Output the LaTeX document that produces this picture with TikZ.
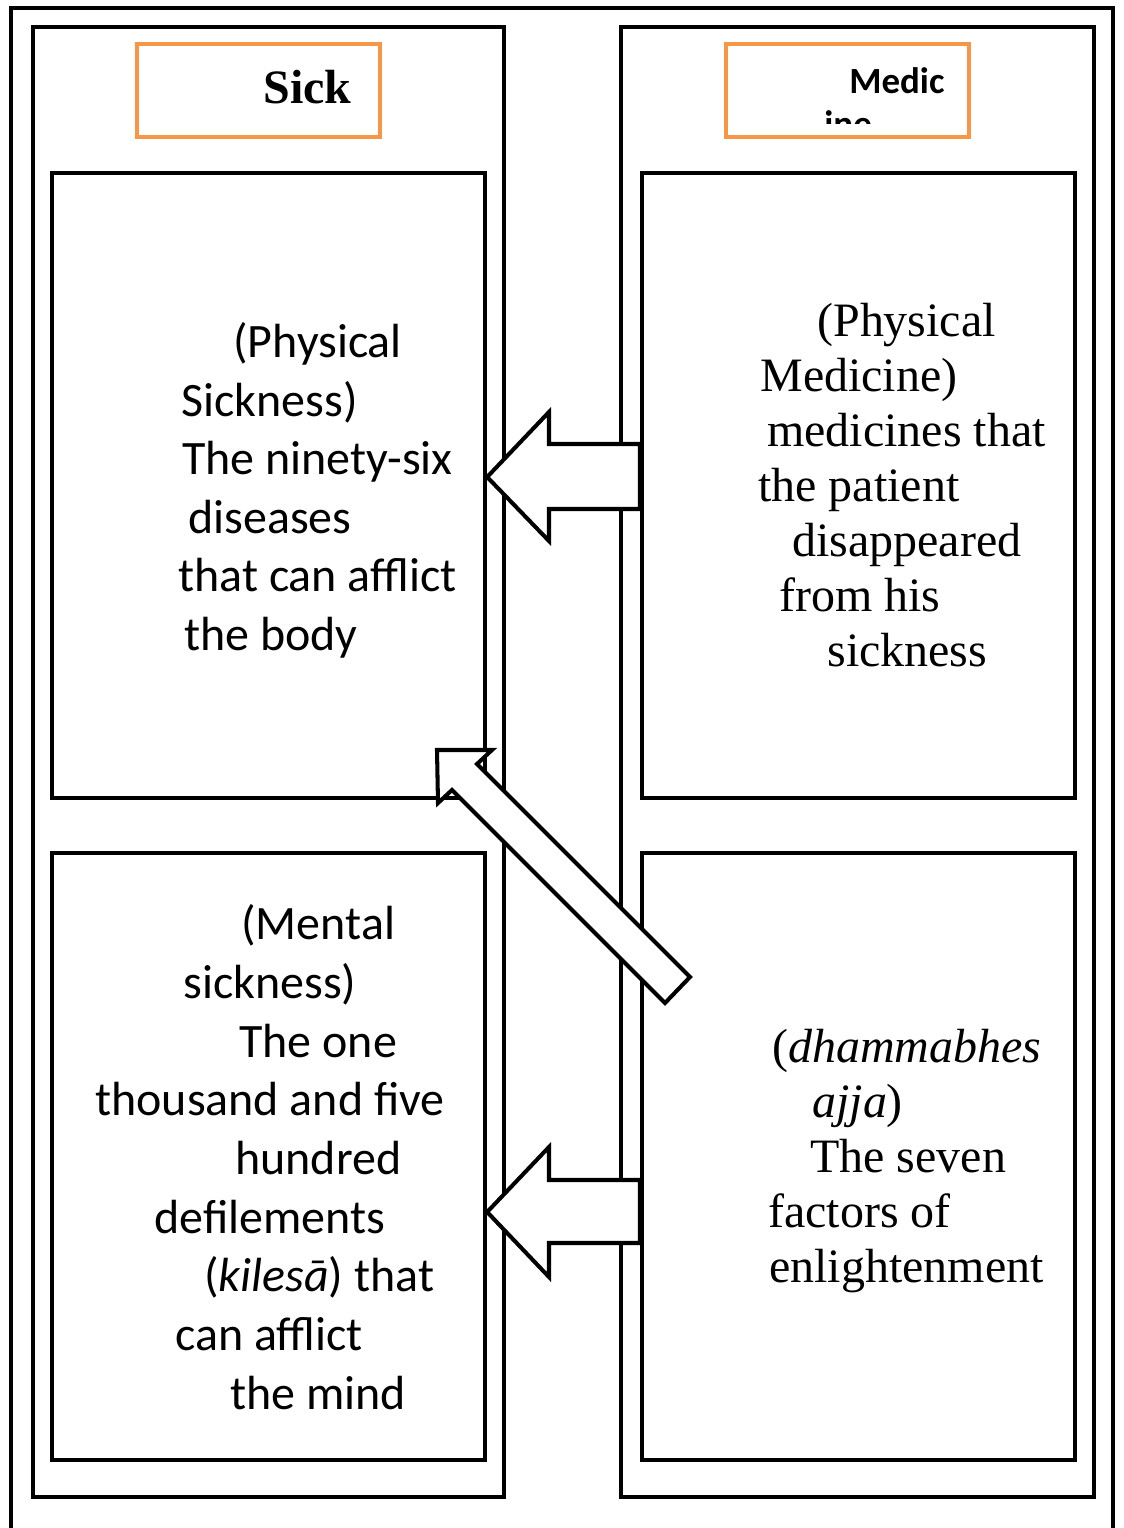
\documentclass[tikz,border=0pt]{standalone}
\usepackage{fontspec}
\setmainfont{Liberation Serif}
\newfontfamily\calibri{Carlito}
\definecolor{hdorange}{RGB}{247,150,70}

\begin{document}
\begin{tikzpicture}[x=0.02cm, y=-0.02cm,
  frame/.style={line width=2.5pt},
  hdbox/.style={draw=hdorange, line width=2.4pt, minimum width=4.86cm, minimum height=1.86cm},
  textbox/.style={draw, line width=2.5pt, minimum width=8.66cm},
  blockarrow/.style={draw, fill=white, line width=2.3pt, line join=miter},
  sans/.style={font=\calibri\fontsize{27.3}{33}\selectfont, anchor=base west, inner sep=0pt},
  serif/.style={font=\fontsize{27.3}{33}\selectfont, anchor=base west, inner sep=0pt}]

\useasboundingbox (0,0) rectangle (1123,1528);

% outer frame, open at the bottom
\draw[frame] (11,1560) -- (11,8) -- (1113,8) -- (1113,1560);

% columns
\draw[frame] (33,27) rectangle (504,1497);
\draw[frame] (621,27) rectangle (1094,1497);

% headers
\node[hdbox] (sickhd) at (258.5,90.5) {};
\node[hdbox] (medhd) at (847.5,90.5) {};
\node[anchor=base west, inner sep=0pt, font=\bfseries\fontsize{27.3}{33}\selectfont] (sick) at (263,103) {Sick};
\begin{scope}
  \clip (728,46) rectangle (968,123);
  \node[anchor=base west, inner sep=0pt, font=\calibri\bfseries\fontsize{21}{26}\selectfont] (medic) at (849,93) {Medic};
  \node[anchor=base west, inner sep=0pt, font=\calibri\bfseries\fontsize{21}{26}\selectfont] (ine) at (824,136) {ine};
\end{scope}

% boxes
\node[textbox, minimum height=12.5cm] (body) at (268.5,485.5) {};
\node[textbox, minimum height=12.5cm] (medphys) at (858.5,485.5) {};
\node[textbox, minimum height=12.14cm] (mind) at (268.5,1156.5) {};
\node[textbox, minimum height=12.14cm] (dhamma) at (858.5,1156.5) {};

% physical sickness
\foreach \tx/\ty/\lbl [count=\i] in {233/357/(Physical, 181/416/Sickness), 182/474/The ninety-six,
    188/533/diseases, 178/591/that can afflict, 184/650/the body}
  \node[sans] (ps\i) at (\tx,\ty) {\lbl};

% mental sickness
\foreach \tx/\ty/\lbl [count=\i] in {241/939/(Mental, 183/998/sickness), 239/1057/The one,
    95/1115/thousand and five, 235/1174/hundred, 154/1233/defilements,
    204/1291/(\textit{kilesā}) that, 175/1350/can afflict, 230/1409/the mind}
  \node[sans] (ms\i) at (\tx,\ty) {\lbl};

% physical medicine
\foreach \tx/\ty/\lbl [count=\i] in {817/336/(Physical, 760/391/Medicine), 767/446/medicines that,
    758/501/the patient, 792/556/disappeared, 779/611/from his, 827/666/sickness}
  \node[serif] (pm\i) at (\tx,\ty) {\lbl};

% dhamma medicine
\foreach \tx/\ty/\lbl [count=\i] in {772/1062/(\textit{dhammabhes}, 812/1117/\textit{ajja}),
    810/1172/The seven, 768/1227/factors of, 769/1282/enlightenment}
  \node[serif] (dm\i) at (\tx,\ty) {\lbl};

% arrows
\draw[blockarrow] (body.east |- 0,477) -- (549,412) -- (549,444) -- (medphys.west |- 0,444)
  -- (medphys.west |- 0,509) -- (549,509) -- (549,541) -- cycle;
\draw[blockarrow] (mind.east |- 0,1212) -- (549,1147) -- (549,1180) -- (dhamma.west |- 0,1180)
  -- (dhamma.west |- 0,1243) -- (549,1243) -- (549,1277) -- cycle;
\draw[blockarrow] (437,750) -- (492,750) -- (477,764) -- (690,977) -- (665,1003)
  -- (452,790) -- (438,803) -- cycle;

\end{tikzpicture}
\end{document}
